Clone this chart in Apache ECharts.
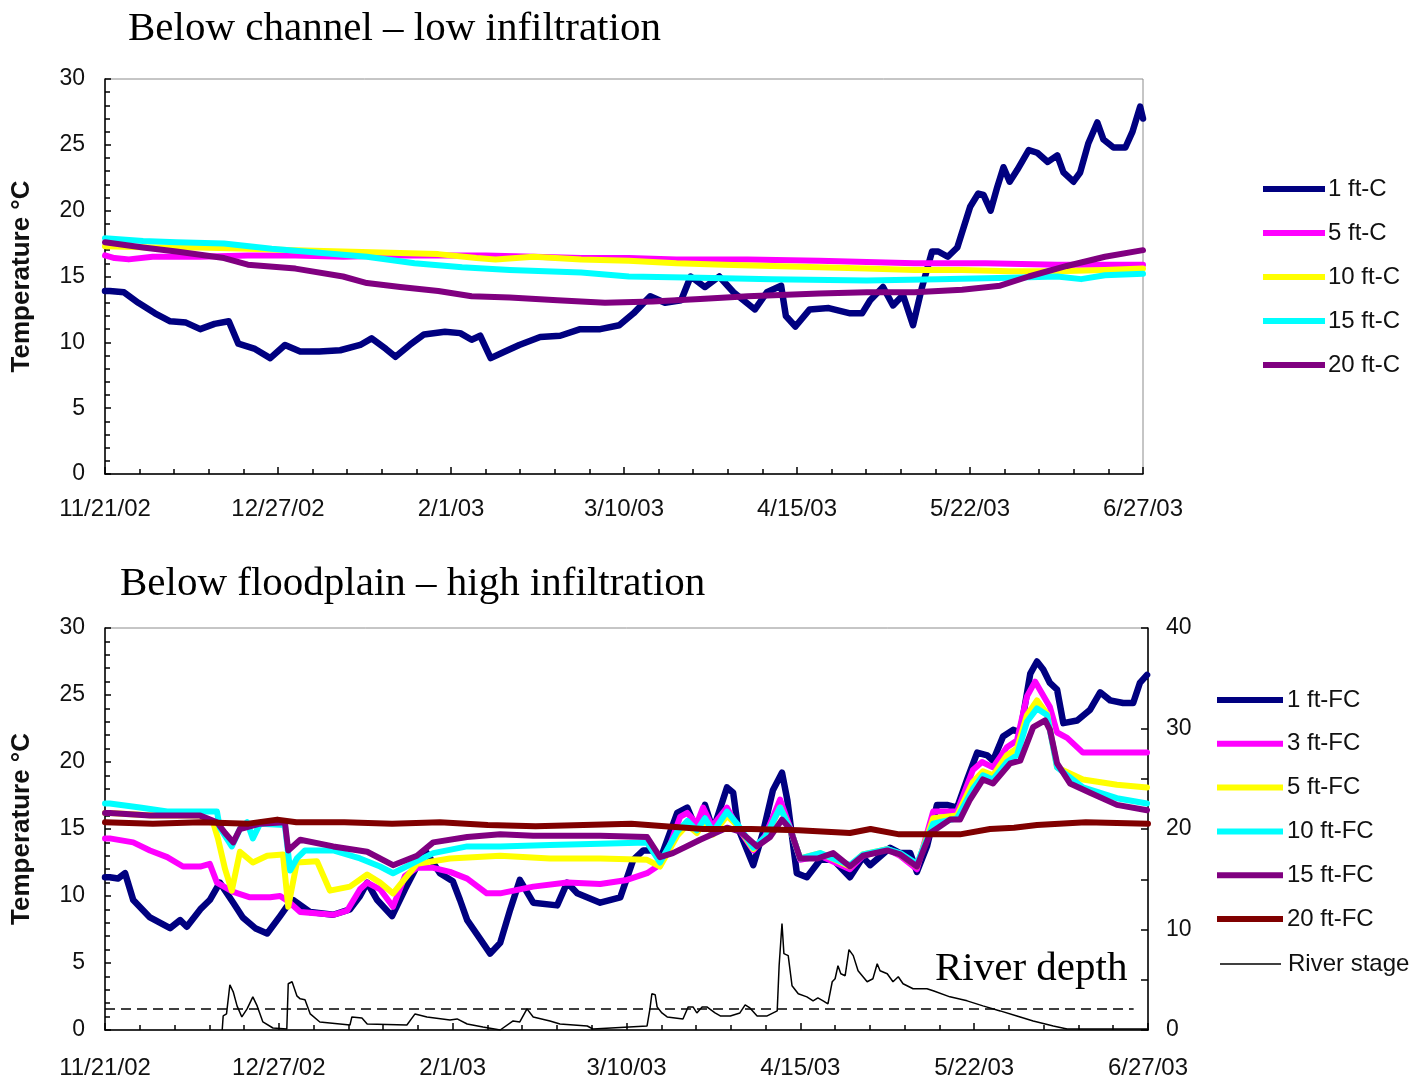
<!DOCTYPE html>
<html>
<head>
<meta charset="utf-8">
<script src="https://cdn.jsdelivr.net/npm/echarts@6/dist/echarts.min.js"></script>
<style>
  html, body { margin: 0; padding: 0; background: #ffffff; }
  #chart { width: 1418px; height: 1081px; }
</style>
</head>
<body>
<div id="chart"></div>
<script>
// Days counted from 11/21/02; the axis runs to 6/27/03 (day 218) in six equal steps.
const DAY_SPAN = 218;
const dateTicks = ['11/21/02', '12/27/02', '2/1/03', '3/10/03', '4/15/03', '5/22/03', '6/27/03'];

// Below channel - temperatures [day, degC]
const ft1C = [[0,13.9],[1,13.9],[4,13.8],[7,13.0],[10.5,12.2],[13.7,11.6],[17,11.5],[20,11.0],[23,11.4],[26,11.6],[28,9.9],[31.5,9.5],[34.7,8.8],[37.8,9.8],[41,9.3],[45,9.3],[49.4,9.4],[53.6,9.8],[56,10.3],[59,9.5],[61,8.9],[64,9.8],[67,10.6],[71.4,10.8],[74.6,10.7],[77,10.2],[78.8,10.5],[81,8.8],[84,9.3],[87,9.8],[91.4,10.4],[95.6,10.5],[99.8,11.0],[104,11.0],[108,11.3],[111,12.2],[114.5,13.5],[117.6,13.0],[121,13.2],[123,15.0],[126,14.2],[129,15.0],[132,13.8],[136.5,12.5],[139,13.8],[142,14.3],[143,12.0],[145,11.2],[148,12.5],[152,12.6],[156.5,12.2],[159,12.2],[160.7,13.2],[163.4,14.2],[165.5,12.8],[167.6,13.6],[169.7,11.3],[171.6,14.2],[173.7,16.9],[175,16.9],[177,16.5],[179,17.2],[181.7,20.3],[183.4,21.3],[184.5,21.2],[186,20.0],[187.4,21.8],[188.7,23.3],[190,22.2],[191.6,23.1],[194,24.6],[195.8,24.4],[198,23.7],[200,24.2],[201.3,22.9],[203.4,22.2],[204.8,22.9],[206.5,25.1],[208.4,26.7],[209.7,25.4],[211.8,24.8],[214.3,24.8],[215.8,26.0],[217.4,27.9],[218,27.0]];
const ft5C = [[0,16.6],[2,16.4],[5,16.3],[10,16.5],[20,16.5],[30,16.6],[40,16.6],[50,16.5],[60,16.6],[70,16.6],[80,16.6],[90,16.5],[100,16.4],[110,16.4],[120,16.3],[135,16.3],[150,16.2],[160,16.1],[170,16.0],[185,16.0],[200,15.9],[210,15.9],[218,15.9]];
const ft10C = [[0,17.3],[10,17.2],[20,17.2],[30,17.1],[40,17.0],[50,16.9],[60,16.8],[70,16.7],[78,16.4],[82,16.3],[90,16.5],[100,16.3],[110,16.2],[120,16.0],[130,15.9],[140,15.8],[150,15.7],[160,15.6],[170,15.5],[180,15.5],[190,15.4],[200,15.4],[210,15.5],[218,15.6]];
const ft15C = [[0,17.9],[8,17.7],[15,17.6],[25,17.5],[35,17.1],[45,16.8],[55,16.5],[65,16.0],[75,15.7],[85,15.5],[100,15.3],[110,15.0],[125,14.9],[140,14.8],[160,14.7],[175,14.8],[190,14.9],[200,15.0],[205,14.8],[210,15.1],[218,15.2]];
const ft20C = [[0,17.6],[8,17.2],[15,16.9],[25,16.4],[30,15.9],[40,15.6],[50,15.0],[55,14.5],[62,14.2],[70,13.9],[77,13.5],[85,13.4],[95,13.2],[105,13.0],[115,13.1],[125,13.3],[135,13.5],[150,13.7],[160,13.8],[170,13.8],[180,14.0],[188,14.3],[194,15.0],[202,15.8],[210,16.5],[218,17.0]];

// Below floodplain - temperatures [day, degC]
const ft1FC = [[0,11.4],[1,11.4],[2.7,11.3],[4.2,11.7],[5.9,9.7],[9.4,8.4],[13.6,7.6],[15.7,8.2],[17.1,7.7],[19.9,9.0],[21.9,9.7],[24,11.0],[26.8,9.5],[28.8,8.4],[31.4,7.6],[33.9,7.2],[36.6,8.5],[38,9.2],[39.3,9.7],[42.9,8.8],[47.7,8.6],[51.2,9.0],[53.3,10.0],[54.8,11.0],[56.9,9.7],[60,8.5],[62.7,10.5],[66.9,13.4],[70,11.7],[72.7,11.1],[74.2,9.7],[75.7,8.2],[78.4,6.8],[80.5,5.7],[82.6,6.5],[84.7,9.0],[86.7,11.2],[89.5,9.5],[94.5,9.3],[96.6,11.0],[98.7,10.2],[103.5,9.5],[107.7,9.9],[110.4,12.7],[112.5,13.4],[114.5,13.4],[116,12.7],[119.6,16.2],[121.7,16.6],[123.7,14.9],[125.4,16.8],[127.1,14.9],[130,18.1],[131.3,17.7],[132.3,15.1],[135.5,12.3],[137.5,14.7],[139.6,17.9],[141.5,19.2],[142.6,17.2],[144.6,11.7],[146.7,11.4],[149.5,12.7],[152.2,12.7],[155.7,11.4],[158.4,12.9],[159.9,12.3],[164.1,13.6],[166.2,13.2],[168.3,13.2],[169.7,11.8],[171.8,13.7],[173.9,16.8],[176,16.8],[178.1,16.6],[180.2,18.7],[182.3,20.7],[184.4,20.5],[185.6,20.1],[187.7,21.9],[189.8,22.4],[191.3,22.2],[193.4,26.6],[194.8,27.5],[196.1,26.9],[197.5,25.9],[199,25.4],[200.3,22.9],[203.2,23.1],[205.9,23.9],[208,25.2],[210.1,24.6],[212.8,24.4],[214.9,24.4],[216.3,25.9],[217.8,26.5]];
const ft3FC = [[0,14.3],[1,14.3],[5.9,14.0],[9.4,13.4],[13,12.9],[16.3,12.2],[19.9,12.2],[21.9,12.4],[23.4,11.0],[26.8,10.3],[30.3,9.9],[34.5,9.9],[36.6,10.0],[38.3,9.6],[40.8,8.8],[47.7,8.6],[50.6,8.9],[53.3,10.5],[54.8,11.0],[57.5,10.5],[60.2,9.2],[62.7,11.5],[65.2,12.1],[68.6,12.1],[72.1,11.8],[75.7,11.3],[79.8,10.2],[82.6,10.2],[89.5,10.7],[96.6,11.0],[103.5,10.9],[109.1,11.2],[113.3,11.7],[115.4,12.2],[117.5,13.2],[120.2,15.9],[121.7,16.2],[123.7,15.4],[125,16.6],[126.9,15.2],[130,16.6],[132.1,15.2],[135.5,13.4],[138,14.5],[141.1,17.2],[143.2,15.1],[145.3,12.7],[149.5,13.0],[155.7,12.0],[158.4,13.0],[163.5,13.5],[166.2,13.0],[169.7,12.0],[173.1,16.3],[178.1,16.3],[181.4,19.4],[183.3,20.0],[185.6,19.6],[188.5,21.1],[190.6,21.6],[192.7,24.9],[194.4,26.0],[197.5,24.1],[199,22.2],[201.1,21.8],[204.4,20.7],[208.6,20.7],[217.8,20.7]];
const ft5FC = [[0,16.2],[1,16.2],[10,16.0],[19.9,16.0],[22.6,15.5],[23.6,14.3],[25.1,12.0],[26.5,10.4],[28.2,13.3],[30.9,12.5],[33.9,13.0],[37.2,13.1],[38.3,9.2],[40.1,12.5],[44.3,12.6],[47,10.4],[51.2,10.7],[54.8,11.6],[57.5,11.0],[60.2,10.2],[65.2,12.4],[72.1,12.8],[82.6,13.0],[93,12.8],[103.5,12.8],[113.3,12.7],[116,12.2],[119.6,14.5],[121.7,15.3],[123.7,14.7],[125.4,15.6],[127.1,14.6],[130,16.0],[132.3,15.2],[135.5,13.5],[138,14.3],[141.1,16.6],[143.2,15.0],[145.3,12.8],[149.5,13.2],[155.7,12.2],[158.4,13.1],[163.5,13.5],[166.2,13.1],[169.7,12.2],[173.1,15.8],[178.1,16.0],[181.4,18.5],[183.5,19.3],[185.6,19.0],[188.5,20.5],[190.6,21.0],[192.7,23.5],[194.8,24.6],[196.9,23.6],[199,19.6],[204.4,18.7],[211.5,18.3],[217.8,18.1]];
const ft10FC = [[0,16.9],[1,16.9],[7.3,16.6],[13,16.3],[23.4,16.3],[24,15.1],[26.5,13.7],[28.2,15.0],[29.7,15.5],[30.9,14.3],[32.4,15.4],[37.6,15.3],[38.7,11.9],[40.1,12.8],[41.8,13.4],[47.7,13.4],[53.3,12.8],[57.5,12.2],[60.2,11.7],[65.2,12.6],[68.6,13.2],[75.7,13.7],[82.6,13.7],[93,13.8],[103.5,13.9],[113.3,14.0],[116,12.5],[119.6,14.8],[121.7,15.6],[123.7,14.9],[125.4,15.8],[127.1,14.8],[130,16.3],[132.3,15.3],[135.5,13.6],[138,14.4],[141.1,16.6],[143.2,15.0],[145.3,12.8],[149.5,13.2],[155.7,12.3],[158.4,13.1],[163.5,13.5],[166.2,13.2],[169.7,12.4],[173.1,15.4],[178.1,15.8],[181.4,18.0],[183.5,19.0],[185.6,18.7],[188.5,20.0],[190.6,20.5],[192.7,23.0],[194.8,24.0],[196.9,23.5],[199,19.6],[204.4,18.1],[211.5,17.3],[217.8,16.9]];
const ft15FC = [[0,16.2],[1,16.2],[9.4,16.0],[19.9,16.0],[23.4,15.5],[25.1,14.7],[26.8,14.0],[28.2,15.0],[32.4,15.4],[37.6,15.5],[38.3,13.4],[40.8,14.2],[47.7,13.7],[54.8,13.3],[60.2,12.3],[65.2,13.0],[68.6,14.0],[75.7,14.4],[82.6,14.6],[89.5,14.5],[103.5,14.5],[113.3,14.4],[116,12.9],[118.7,13.2],[124.4,14.2],[130,15.1],[132.8,14.8],[136.3,13.7],[139,14.4],[141.5,15.7],[143.2,15.0],[145.3,12.8],[148.9,12.8],[152.2,13.2],[155.7,12.2],[158.4,13.0],[163.5,13.4],[166.2,13.1],[169.7,12.2],[172.5,14.7],[176.6,15.7],[178.7,15.7],[180.8,17.2],[183.5,18.7],[185.6,18.4],[189.2,19.9],[191.3,20.1],[194,22.6],[196.5,23.1],[197.5,22.4],[199,19.9],[201.7,18.4],[205.9,17.7],[211.5,16.8],[217.8,16.4]];
const ft20FC = [[0,15.5],[10,15.4],[20,15.5],[30,15.4],[36,15.7],[40,15.5],[50,15.5],[60,15.4],[70,15.5],[80,15.3],[90,15.2],[100,15.3],[110,15.4],[117,15.2],[125,15.0],[135,15.0],[145,14.9],[155.7,14.7],[160,15.0],[166,14.6],[172,14.6],[178.7,14.6],[185,15.0],[190,15.1],[194.8,15.3],[205,15.5],[218,15.4]];

// River stage on the right-hand axis [day, depth]
const riverStage = [[24.5,0],[24.7,1.4],[25.4,1.6],[26.1,4.5],[26.8,3.8],[27.6,2.4],[28.6,1.3],[29.7,2.1],[30.9,3.3],[31.8,2.4],[33,0.8],[35.1,0.2],[38,0.1],[38.3,4.6],[39.1,4.8],[40.1,3.4],[40.8,3.1],[41.8,3.0],[42.9,1.6],[44.9,0.8],[49.1,0.6],[51.2,0.5],[51.6,1.3],[53.7,1.2],[54.8,0.6],[63.1,0.5],[64.8,1.6],[67.3,1.3],[72.1,1.0],[73.6,1.1],[75.7,0.6],[79,0.3],[82.6,0],[85.3,0.9],[86.7,0.8],[88.2,2.1],[89.5,1.3],[93,0.9],[95.1,0.6],[100.8,0.4],[102,0.1],[113.3,0.4],[113.9,2.1],[114.3,3.6],[115,3.5],[115.4,2.3],[116.4,1.7],[117.5,1.3],[120.8,1.1],[121.9,2.3],[122.9,2.3],[123.7,1.7],[124.8,2.3],[125.8,2.3],[127.5,1.7],[128.6,1.4],[130.7,1.4],[132.7,1.7],[133.8,2.5],[134.8,2.2],[136.3,1.4],[138.4,1.4],[140.5,1.9],[140.9,6.4],[141.5,10.6],[141.9,7.6],[142.8,7.4],[143.6,4.4],[144.9,3.6],[146.7,3.3],[148,2.9],[149,3.2],[150.1,2.9],[151.1,2.6],[152,4.8],[152.6,5.1],[153.2,6.4],[153.8,5.6],[154.7,5.4],[155.5,8.0],[156.4,7.4],[157.4,5.9],[159.3,4.8],[160.5,5.1],[161.4,6.6],[162,5.9],[163.5,5.6],[164.7,4.8],[165.8,5.3],[166.8,4.6],[168.9,4.1],[171.8,4.1],[173.1,3.9],[176.6,3.3],[180.2,2.9],[183.5,2.4],[187.1,1.9],[190.6,1.4],[194,0.9],[198.2,0.4],[201.1,0.1],[217.8,0.1]];
const stageReference = 2.15;

const TICK_STEP = DAY_SPAN / 6;
const ink = '#111111';
const SANS = 'Liberation Sans, Arial, sans-serif';
const SERIF = '"Liberation Serif", "Times New Roman", serif';

function dateLabel(v) {
  const i = Math.round(v / TICK_STEP);
  return dateTicks[i] || '';
}

function xAxisFor(gridIndex, margin) {
  return {
    type: 'value', gridIndex, min: 0, max: DAY_SPAN, interval: TICK_STEP,
    axisLine: { show: true, onZero: false, lineStyle: { color: '#000', width: 1.5 } },
    axisTick: { show: true, inside: true, length: 7, lineStyle: { color: '#000', width: 1.5 } },
    minorTick: { show: true, splitNumber: 5, length: 5, lineStyle: { color: '#000', width: 1.5 } },
    splitLine: { show: false },
    axisLabel: { margin, formatter: dateLabel, showMinLabel: true, showMaxLabel: true,
      fontFamily: SANS, fontSize: 24, color: ink }
  };
}

function tempAxis(gridIndex) {
  return {
    type: 'value', gridIndex, min: 0, max: 30, interval: 5,
    name: 'Temperature \u00b0C', nameLocation: 'middle', nameGap: 70, nameRotate: 90,
    nameTextStyle: { fontFamily: SANS, fontSize: 26, fontWeight: 'bold', color: ink },
    axisLine: { show: true, lineStyle: { color: '#000', width: 1.5 } },
    axisTick: { show: true, inside: true, length: 6, lineStyle: { color: '#000', width: 1.5 } },
    minorTick: { show: true, splitNumber: 5, length: 5, lineStyle: { color: '#000', width: 1.5 } },
    splitLine: { show: false },
    axisLabel: { margin: 20, fontFamily: SANS, fontSize: 23, color: ink }
  };
}

function tempSeries(name, data, color, xi, yi, width) {
  return {
    name, type: 'line', data, xAxisIndex: xi, yAxisIndex: yi,
    color, symbol: 'none', smooth: false, silent: true, animation: false,
    lineStyle: { color, width: width || 6, join: 'round', cap: 'round' }
  };
}

function legendText(gap) {
  return { fontFamily: SANS, fontSize: 24, color: ink, lineHeight: 24, padding: [0, 0, 0, gap] };
}

const option = {
  backgroundColor: '#ffffff',
  animation: false,
  grid: [
    { left: 105, top: 79, width: 1038, height: 395, show: true, borderColor: '#8c8c8c', borderWidth: 1, backgroundColor: 'transparent' },
    { left: 105, top: 628, width: 1043, height: 402, show: true, borderColor: '#8c8c8c', borderWidth: 1, backgroundColor: 'transparent' }
  ],
  xAxis: [xAxisFor(0, 23), xAxisFor(1, 26)],
  yAxis: [
    tempAxis(0),
    tempAxis(1),
    {
      type: 'value', gridIndex: 1, position: 'right', min: 0, max: 40, interval: 10,
      axisLine: { show: true, lineStyle: { color: '#000', width: 1.5 } },
      axisTick: { show: true, inside: true, length: 7, lineStyle: { color: '#000', width: 1.5 } },
      minorTick: { show: true, splitNumber: 2, length: 7, lineStyle: { color: '#000', width: 1.5 } },
      splitLine: { show: false },
      axisLabel: { margin: 18, fontFamily: SANS, fontSize: 23, color: ink }
    }
  ],
  legend: [
    {
      data: ['1 ft-C', '5 ft-C', '10 ft-C', '15 ft-C', '20 ft-C'],
      orient: 'vertical', left: 1263, top: 177, padding: 0,
      icon: 'rect', itemWidth: 62, itemHeight: 6, itemGap: 20,
      textStyle: legendText(-2), selectedMode: false
    },
    {
      data: ['1 ft-FC', '3 ft-FC', '5 ft-FC', '10 ft-FC', '15 ft-FC', '20 ft-FC'],
      orient: 'vertical', left: 1217, top: 688, padding: 0,
      icon: 'rect', itemWidth: 66, itemHeight: 6, itemGap: 19.8,
      textStyle: legendText(-1), selectedMode: false
    },
    {
      data: ['River stage'],
      orient: 'vertical', left: 1220, top: 952, padding: 0,
      icon: 'rect', itemWidth: 61, itemHeight: 1.5, itemGap: 0,
      textStyle: legendText(2), selectedMode: false
    }
  ],
  graphic: [
    { type: 'text', left: 128, top: 9, silent: true,
      style: { text: 'Below channel \u2013 low infiltration', font: '41px ' + SERIF, fill: '#000' } },
    { type: 'text', left: 120, top: 564, silent: true,
      style: { text: 'Below floodplain \u2013 high infiltration', font: '41px ' + SERIF, fill: '#000' } },
    { type: 'text', left: 935, top: 949, silent: true, z: 20,
      style: { text: 'River depth', font: '41px ' + SERIF, fill: '#000' } }
  ],
  series: [
    tempSeries('1 ft-C', ft1C, '#000080', 0, 0, 6.5),
    tempSeries('5 ft-C', ft5C, '#FF00FF', 0, 0),
    tempSeries('10 ft-C', ft10C, '#FFFF00', 0, 0),
    tempSeries('15 ft-C', ft15C, '#00FFFF', 0, 0),
    tempSeries('20 ft-C', ft20C, '#800080', 0, 0),
    tempSeries('1 ft-FC', ft1FC, '#000080', 1, 1, 6.5),
    tempSeries('3 ft-FC', ft3FC, '#FF00FF', 1, 1),
    tempSeries('5 ft-FC', ft5FC, '#FFFF00', 1, 1),
    tempSeries('10 ft-FC', ft10FC, '#00FFFF', 1, 1),
    tempSeries('15 ft-FC', ft15FC, '#800080', 1, 1),
    tempSeries('20 ft-FC', ft20FC, '#800000', 1, 1),
    {
      name: 'River stage', type: 'line', data: riverStage, xAxisIndex: 1, yAxisIndex: 2,
      color: '#000000', symbol: 'none', silent: true, animation: false,
      lineStyle: { color: '#000000', width: 1.5 },
      markLine: {
        silent: true, symbol: 'none', animation: false,
        label: { show: false },
        lineStyle: { color: '#000000', width: 1.5, type: [10, 6] },
        data: [[{ coord: [0, stageReference] }, { coord: [215, stageReference] }]]
      }
    }
  ]
};

const chart = echarts.init(document.getElementById('chart'), null, { renderer: 'canvas' });
chart.setOption(option);
</script>
</body>
</html>
